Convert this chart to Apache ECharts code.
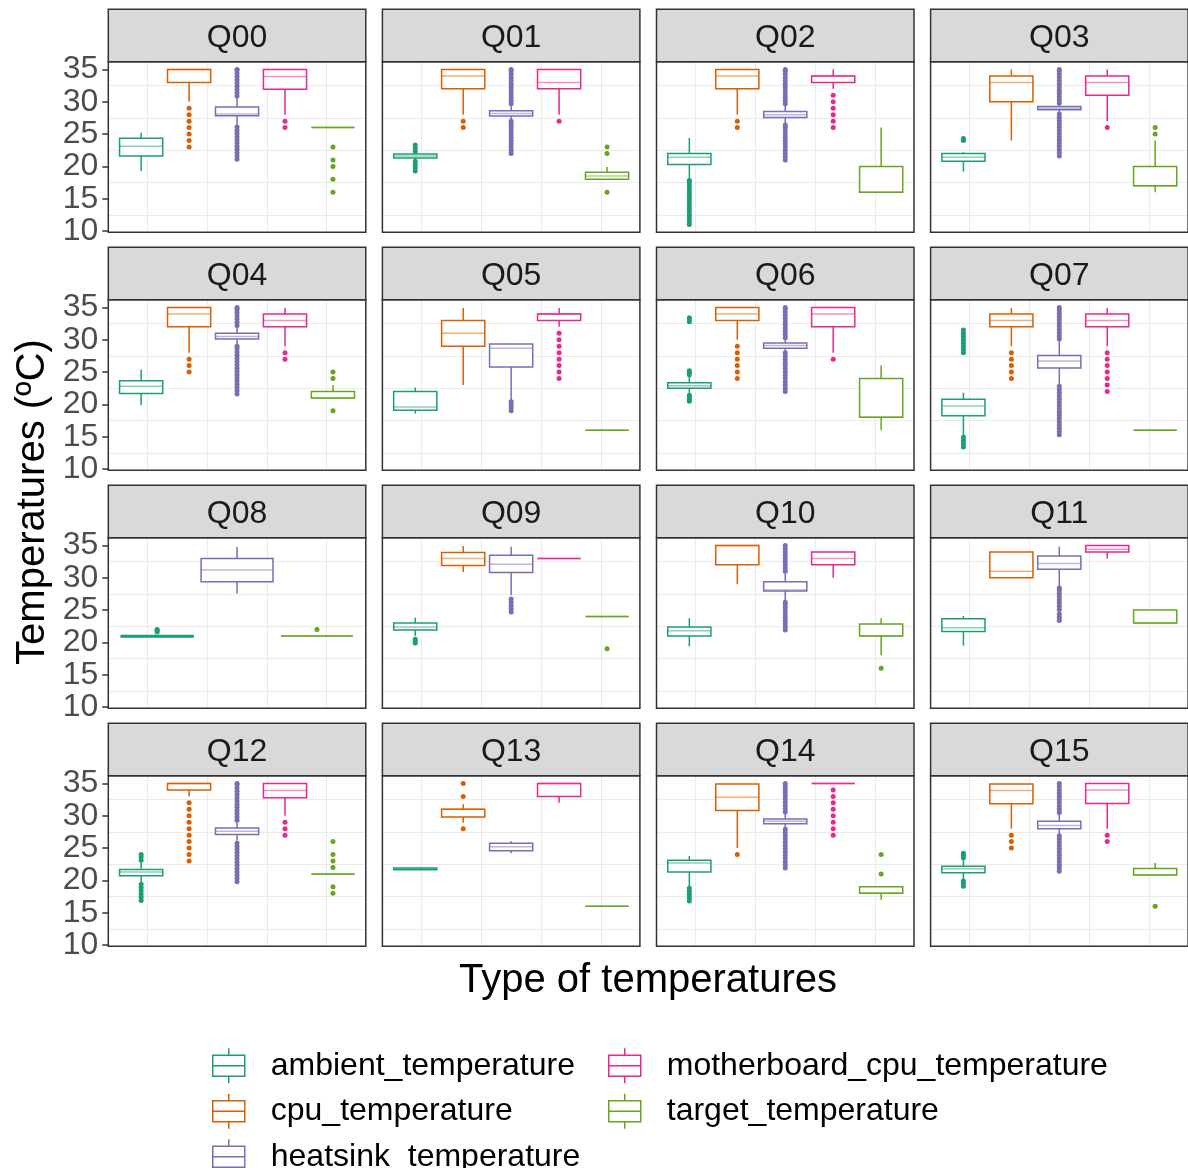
<!DOCTYPE html>
<html><head><meta charset="utf-8">
<script src="https://cdn.jsdelivr.net/npm/echarts@6.0.0/dist/echarts.min.js"></script>
<style>html,body{margin:0;padding:0;background:#fff}#c{width:1188px;height:1168px}</style>
</head><body><div id="c"></div><script>
const categories = ['ambient_temperature','cpu_temperature','heatsink_temperature','motherboard_cpu_temperature','target_temperature'];
const colors = ['#1B9E77','#D95F02','#7570B3','#E7298A','#66A61E'];
const panelNames = ['Q00','Q01','Q02','Q03','Q04','Q05','Q06','Q07','Q08','Q09','Q10','Q11','Q12','Q13','Q14','Q15'];
const yTicks = [10,15,20,25,30,35];
const yGridValues = [12.5,17.5,22.5,27.5,32.5];
const xGridValues = [1.13,2.38,3.62,4.87];
const xTitle = 'Type of temperatures';
const yTitle = 'Temperatures (ºC)';

// box stats per category: [lower whisker, q1, median, q3, upper whisker]
const Q00_box = [[19.3,21.6,23.1,24.35,25.2],[30,33,35,35,35],[26.2,27.85,28.1,29.2,30.8],[28,31.95,33.9,35,35],[26,26,26,26,26]];
const Q00_out = [[],[23,24,25,26,27,28,29],[21.1,21.6,22.1,22.6,23.1,23.6,24.1,24.6,25.1,25.6,26.1,30.9,31.4,31.9,32.4,32.9,33.4,33.9,34.4,34.9,35],[26,27],[16,18,20,21,23]];
const Q01_box = [[21.0,21.3,21.6,21.9,22.1],[28,32,34,35,35],[27.2,27.8,28.2,28.6,29.4],[28,32,33,35,35],[18,18,18.5,19.1,19.9]];
const Q01_out = [[19.3,19.8,20.3,20.8,22.3,22.8,23.3],[26,27],[22,22.5,23,23.5,24,24.5,25,25.5,26,26.5,27,29.7,30.2,30.7,31.2,31.7,32.2,32.7,33.2,33.7,34.2,34.7,35],[27],[16,22,23]];
const Q02_box = [[18,20.3,21.4,22,24.4],[28,32,34,35,35],[26.6,27.55,28,28.5,29.4],[32,33,34,34,35],[16,16,16,20,26]];
const Q02_out = [[11,11.5,12,12.5,13,13.5,14,14.5,15,15.5,16,16.5,17,17.5,17.8],[26,27],[21,21.5,22,22.5,23,23.5,24,24.5,25,25.5,26,26.4,29.7,30.2,30.7,31.2,31.7,32.2,32.7,33.2,33.7,34.2,34.7,35],[26,27,28,29,30,31],[]];
const Q03_box = [[19.2,20.8,21.4,22,22.2],[24,30,33,34,35],[28.4,28.75,29,29.25,29.5],[27,31,33,34,35],[16,17,17,20,24]];
const Q03_out = [[24,24.3],[],[21.6,22.1,22.6,23.1,23.6,24.1,24.6,25.1,25.6,26.1,26.6,27.1,27.6,28.1,29.8,30.3,30.8,31.3,31.8,32.3,32.8,33.3,33.8,34.3,34.8,35],[26],[25,26]];
const Q04_box = [[19.85,21.7,22.8,23.65,25.4],[28,32,34,35,35],[29.2,30.1,30.5,31,32],[29,32,33,34,34.9],[21,21,21,22,23]];
const Q04_out = [[],[25,26,27],[21.6,22.1,22.6,23.1,23.6,24.1,24.6,25.1,25.6,26.1,26.6,27.1,27.6,28.1,28.6,29,32.2,32.7,33.2,33.7,34.2,34.7,35],[27,28],[19,24,25]];
const Q05_box = [[18.6,19.1,19.6,22,22.6],[23,29,31,33,34.9],[20.6,25.8,28.7,29.35,29.4],[32,33,34,34,34.9],[16,16,16,16,16]];
const Q05_out = [[],[],[19,19.5,20,20.4],[24,25,26,27,28,29,30,31],[]];
const Q06_box = [[21.7,22.5,22.9,23.35,24.4],[30,33,34,35,35],[28.2,28.7,29.1,29.5,30],[28,32,34,35,35],[16,18,18,24,26]];
const Q06_out = [[20.5,20.8,21.1,21.4,24.6,24.9,25.2,32.8,33.1,33.4],[24,25,26,27,28,29],[22,22.5,23,23.5,24,24.5,25,25.5,26,26.5,27,27.5,28,30.3,30.8,31.3,31.8,32.3,32.8,33.3,33.8,34.3,34.8,35],[27],[]];
const Q07_box = [[15.2,18.25,19.75,20.8,21.8],[29,32,33,34,34.9],[23.1,25.65,26.7,27.55,29.9],[29,32,33,34,34.9],[16,16,16,16,16]];
const Q07_out = [[13.4,13.9,14.4,14.9,28,28.5,29,29.5,30,30.5,31,31.5],[24,25,26,27,28],[15.3,15.8,16.3,16.8,17.3,17.8,18.3,18.8,19.3,19.8,20.3,20.8,21.3,21.8,22.3,22.8,30.1,30.6,31.1,31.6,32.1,32.6,33.1,33.6,34.1,34.6,35],[22,23,24,25,26,27,28],[]];
const Q08_box = [[20.85,20.85,20.9,21.05,21.05],null,[27.55,29.4,31.2,33,34.75],null,[21,21,21,21,21]];
const Q08_out = [[21.6,21.8,22],[],[],[],[22]];
const Q09_box = [[21,21.9,22.4,23,23.8],[30.9,31.9,33,33.9,34.9],[27.3,30.8,32.1,33.5,34.8],[33,33,33,33,33],[24,24,24,24,24]];
const Q09_out = [[19.9,20.2,20.5],[],[24.7,25.2,25.7,26.2,26.7],[],[19]];
const Q10_box = [[19.4,21,21.8,22.4,23.75],[29,32,35,35,35],[26.4,27.95,28.1,29.4,30.8],[30,32,33,34,34],[18,21,21,22.85,23.75]];
const Q10_out = [[],[],[21.9,22.4,22.9,23.4,23.9,24.4,24.9,25.4,25.9,26.2,31,31.5,32,32.5,33,33.5,34,34.5,35],[],[16]];
const Q11_box = [[19.5,21.7,22.25,23.65,24.1],[30,30,31,34,34],[28.5,31.3,32.2,33.35,34.8],[33,34,34.4,35,35],[23,23,23,25,25]];
const Q11_out = [[],[],[23.4,23.9,24.4,25.1,25.6,26.1,26.6,27.1,27.6,28.1,28.4],[],[]];
const Q12_box = [[19.6,20.7,21.3,21.7,22.9],[33,34,35,35,35],[26.2,27.1,27.6,28.1,29.1],[30,32.8,33.9,35,35],[21,21,21,21,21]];
const Q12_out = [[16.9,17.4,17.9,18.4,18.9,19.4,23.1,23.6,24],[23,24,25,26,27,28,29,30,31,32],[19.8,20.3,20.8,21.3,21.8,22.3,22.8,23.3,23.8,24.3,24.8,25.3,25.8,29.3,29.8,30.3,30.8,31.3,31.8,32.3,32.8,33.3,33.8,34.3,34.8,35],[27,28,29],[18,19,22,23,24,26]];
const Q13_box = [[21.65,21.65,21.8,21.9,21.9],[28.9,29.8,31,31,31.8],[24.2,24.6,25.2,25.75,26.05],[32,33,35,35,35],[16,16,16,16,16]];
const Q13_out = [[],[28,33,35],[],[],[]];
const Q14_box = [[19.1,21.3,22.7,23.1,23.75],[25,30.8,32.85,34.9,34.9],[28.2,28.75,29.15,29.5,30.4],[35,35,35,35,35],[17,18,18,19,19]];
const Q14_out = [[16.8,17.3,17.8,18.3,18.8],[24],[21.9,22.4,22.9,23.4,23.9,24.4,24.9,25.4,25.9,26.4,26.9,27.4,27.9,30.6,31.1,31.6,32.1,32.6,33.1,33.6,34.1,34.6,35],[27,28,29,30,31,32,33,34],[21,24]];
const Q15_box = [[20.2,21.2,21.8,22.2,23.3],[28,31.85,33.9,34.9,34.9],[27,28,28.5,29.15,30.3],[28,31.9,34,35,35],[20.85,20.85,20.85,21.85,22.7]];
const Q15_out = [[19.1,19.5,19.9,23.5,23.9,24.2],[25,26,27],[21.4,21.9,22.4,22.9,23.4,23.9,24.4,24.9,25.4,25.9,26.4,26.9,30.5,31,31.5,32,32.5,33,33.5,34,34.5,35],[26,27],[16]];

const panelBoxes = [Q00_box,Q01_box,Q02_box,Q03_box,Q04_box,Q05_box,Q06_box,Q07_box,Q08_box,Q09_box,Q10_box,Q11_box,Q12_box,Q13_box,Q14_box,Q15_box];
const panelOutliers = [Q00_out,Q01_out,Q02_out,Q03_out,Q04_out,Q05_out,Q06_out,Q07_out,Q08_out,Q09_out,Q10_out,Q11_out,Q12_out,Q13_out,Q14_out,Q15_out];

// layout
const FONT = '"Liberation Sans", Arial, Helvetica, sans-serif';
const colLeft = [108.3, 382.4, 656.5, 930.6];
const rowTop = [61.7, 299.7, 537.7, 775.7];
const PW = 257.5, PH = 170.6, SH = 52.4;
const X_MIN = 0.315, X_MAX = 5.685, Y_MIN = 9.8, Y_MAX = 36.2;

function renderBox(params, api) {
  const x = api.value(0), w = api.value(6);
  const c = api.visual('color');
  const md = api.value(3);
  const L = api.coord([x - w / 2, md])[0];
  const R = api.coord([x + w / 2, md])[0];
  const pMd = api.coord([x, md]);
  const cx = pMd[0];
  const yLo = api.coord([x, api.value(1)])[1];
  const yQ1 = api.coord([x, api.value(2)])[1];
  const yQ3 = api.coord([x, api.value(4)])[1];
  const yHi = api.coord([x, api.value(5)])[1];
  return { type: 'group', children: [
    { type: 'line', shape: { x1: cx, y1: yHi, x2: cx, y2: yQ3 }, style: { stroke: c, lineWidth: 1.5 } },
    { type: 'line', shape: { x1: cx, y1: yQ1, x2: cx, y2: yLo }, style: { stroke: c, lineWidth: 1.5 } },
    { type: 'rect', shape: { x: L, y: yQ3, width: R - L, height: yQ1 - yQ3 }, style: { fill: '#fff', stroke: c, lineWidth: 1.5 } },
    { type: 'line', shape: { x1: L, y1: pMd[1], x2: R, y2: pMd[1] }, style: { stroke: c, lineWidth: 1.5, opacity: 0.5 } }
  ]};
}

const grids = [], xAxes = [], yAxes = [], series = [], graphics = [];
panelNames.forEach((name, i) => {
  const r = Math.floor(i / 4), c = i % 4;
  const left = colLeft[c], top = rowTop[r];
  grids.push({ left: left, top: top, width: PW, height: PH, show: false, containLabel: false });
  xAxes.push({ gridIndex: i, type: 'value', min: X_MIN, max: X_MAX,
    axisLine: { show: false }, axisTick: { show: false, customValues: xGridValues },
    axisLabel: { show: false, customValues: xGridValues },
    splitLine: { show: true, lineStyle: { color: '#EBEBEB', width: 1.1 } } });
  yAxes.push({ gridIndex: i, type: 'value', min: Y_MIN, max: Y_MAX, position: 'left',
    axisLine: { show: false },
    axisTick: { show: c === 0, length: 6, lineStyle: { color: '#333333', width: 1.5 }, customValues: yTicks },
    axisLabel: { show: c === 0, customValues: yTicks, fontSize: 32, color: '#4D4D4D', margin: 10, fontFamily: FONT },
    splitLine: { show: false } });
  yAxes.push({ gridIndex: i, type: 'value', min: Y_MIN, max: Y_MAX, position: 'right',
    axisLine: { show: false }, axisTick: { show: false, customValues: yGridValues },
    axisLabel: { show: false, customValues: yGridValues },
    splitLine: { show: true, lineStyle: { color: '#EBEBEB', width: 1.1 } } });

  const boxes = panelBoxes[i], outs = panelOutliers[i];
  const present = [];
  boxes.forEach((b, k) => { if (b) present.push(k); });
  const n = present.length, step = 5 / n;
  present.forEach((k, j) => {
    const xc = 3 + (j - (n - 1) / 2) * step;
    const b = boxes[k];
    series.push({ type: 'custom', name: categories[k], xAxisIndex: i, yAxisIndex: 2 * i,
      itemStyle: { color: colors[k] }, renderItem: renderBox, silent: true, z: 3,
      encode: { x: 0, y: [1, 2, 3, 4, 5] },
      data: [[xc, b[0], b[1], b[2], b[3], b[4], 0.9 * step]] });
    series.push({ type: 'scatter', name: categories[k], xAxisIndex: i, yAxisIndex: 2 * i,
      symbol: 'circle', symbolSize: 5, silent: true, z: 4,
      itemStyle: { color: colors[k], opacity: 1 },
      data: outs[k].map(v => [xc, v]) });
  });

  // strip
  graphics.push({ type: 'rect', z: 100, shape: { x: left, y: top - SH, width: PW, height: SH },
    style: { fill: '#D9D9D9', stroke: '#333333', lineWidth: 1.5 } });
  graphics.push({ type: 'text', z: 101, x: left + PW / 2, y: top - SH / 2 + 3,
    style: { text: name, fill: '#1A1A1A', font: '32px ' + FONT, align: 'center', verticalAlign: 'middle', textAlign: 'center', textVerticalAlign: 'middle' } });
  // panel border
  graphics.push({ type: 'rect', z: 100, shape: { x: left, y: top, width: PW, height: PH },
    style: { fill: 'none', stroke: '#333333', lineWidth: 1.5 } });
});

graphics.push({ type: 'text', z: 101, x: 648, y: 981,
  style: { text: xTitle, fill: '#000', font: '40px ' + FONT, align: 'center', verticalAlign: 'middle', textAlign: 'center', textVerticalAlign: 'middle' } });
graphics.push({ type: 'text', z: 101, x: 33, y: 502, rotation: Math.PI / 2,
  style: { text: yTitle, fill: '#000', font: '40px ' + FONT, align: 'center', verticalAlign: 'middle', textAlign: 'center', textVerticalAlign: 'middle' } });

const iconPath = 'path://M16,0L16,7M0,7L32,7L32,28L0,28ZM0,17.5L32,17.5M16,28L16,35';
function legendItem(k) {
  return { name: categories[k], icon: iconPath, itemStyle: { color: '#ffffff', borderColor: colors[k], borderWidth: 1.5 } };
}
const legendBase = { orient: 'vertical', itemGap: 9, itemWidth: 32, itemHeight: 35, padding: 0, selectedMode: false,
  height: 140, width: 420,
  textStyle: { fontSize: 32, color: '#000000', fontFamily: FONT, padding: [0, 0, 0, 21] } };

const chart = echarts.init(document.getElementById('c'), null, { renderer: 'canvas' });
chart.setOption({
  animation: false,
  backgroundColor: '#ffffff',
  textStyle: { fontFamily: FONT },
  grid: grids, xAxis: xAxes, yAxis: yAxes, series: series,
  legend: [
    Object.assign({}, legendBase, { left: 212, top: 1047.5, data: [0, 1, 2].map(legendItem) }),
    Object.assign({}, legendBase, { left: 608, top: 1047.5, data: [3, 4].map(legendItem) })
  ],
  graphic: graphics
});
</script></body></html>
